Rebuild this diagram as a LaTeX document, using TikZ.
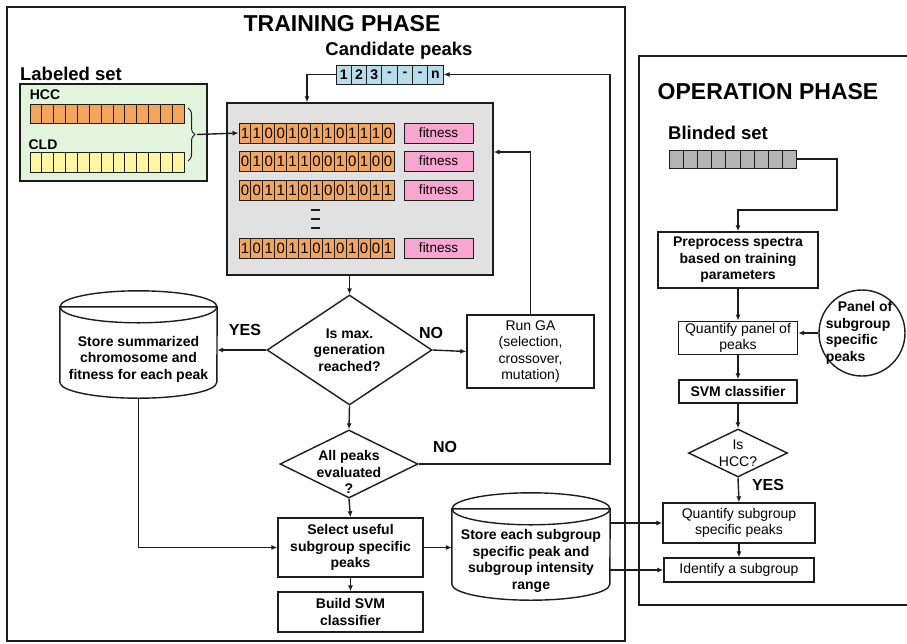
\documentclass[tikz,border=0pt]{standalone}
\usepackage{fontspec}
\setmainfont{Liberation Sans}
\usepackage{tikz}
\usetikzlibrary{positioning,arrows.meta,shapes.geometric,decorations.pathreplacing}
\definecolor{gink}{HTML}{1C1C1C}
\definecolor{gorg}{HTML}{F4A55A}
\definecolor{gpnk}{HTML}{F8A5CF}
\definecolor{gblu}{HTML}{B8DDE9}
\definecolor{ggrn}{HTML}{E3F4DC}
\definecolor{gyel}{HTML}{FFF6A2}
\definecolor{ggry}{HTML}{E1E1E1}
\definecolor{gdrk}{HTML}{B4B4B4}
\newcommand{\bodyfont}{\fontsize{14}{16.5}\selectfont}
\newcommand{\titlefont}{\fontsize{23}{26}\selectfont\bfseries}
\newcommand{\headfont}{\fontsize{18.5}{21}\selectfont\bfseries}
\newcommand{\bitrow}[3]{% name, y, bits
  \foreach \b [count=\i] in {#3}
    \node[bit] (#1\i) at ({239+(\i-0.5)*11.92},#2) {\b};
}
\newcommand{\drum}[3]{% node, x radius, y radius
  \draw[link, fill=white] ([yshift=-#3pt]#1.north west) -- ([yshift=#3pt]#1.south west)
    arc[start angle=180, end angle=0, x radius=#2, y radius=#3]
    -- ([yshift=-#3pt]#1.north east) -- cycle;
  \draw[link] ([yshift=-#3pt]#1.north) ellipse [x radius=#2, y radius=#3];
}
\tikzset{
  phase/.style ={draw=gink, line width=1.8pt},
  title/.style ={font=\titlefont, inner sep=0pt},
  head/.style  ={font=\headfont, inner sep=0pt},
  tag/.style   ={font=\bodyfont\bfseries, inner sep=0pt},
  lbl/.style   ={font=\fontsize{16}{16}\selectfont\bfseries, inner sep=0pt},
  box/.style   ={draw=gink, line width=1.4pt, fill=white, align=center,
                 inner sep=2pt, font=\bodyfont\bfseries},
  rbox/.style  ={box, font=\bodyfont},
  decn/.style  ={diamond, draw=gink, line width=1.4pt, fill=white, inner sep=0pt},
  store/.style ={rectangle, inner sep=0pt},
  dtext/.style ={align=center, inner sep=0pt, font=\bodyfont\bfseries},
  cell/.style  ={draw=gink, line width=0.9pt, inner sep=0pt},
  bit/.style   ={cell, fill=gorg, minimum width=11.92pt, minimum height=20pt,
                 font=\fontsize{15}{15}\selectfont},
  ccell/.style ={cell, fill=gblu, minimum width=15.3pt, minimum height=19pt,
                 font=\fontsize{14}{14}\selectfont\bfseries},
  fitbox/.style={cell, fill=gpnk, minimum width=69pt, minimum height=20pt,
                 font=\fontsize{13.5}{13.5}\selectfont},
  flow/.style  ={-{Latex[length=6pt,width=5pt]}, line width=1.4pt, draw=gink},
  link/.style  ={line width=1.4pt, draw=gink},
}
\begin{document}
\begin{tikzpicture}[x=1pt, y=-1pt]
  \useasboundingbox (0,0) rectangle (907,643);
  % phase frames
  \draw[phase] (7,7) rectangle (625,641);
  \draw[phase] (639,56) rectangle (915,605);
  \node[title] (trainlbl) at (342,24) {TRAINING PHASE};
  \node[title] (operlbl) at (768,92) {OPERATION PHASE};

  % labeled set
  \node[head] (labset) at (71,74) {Labeled set};
  \node[cell, line width=1.4pt, fill=ggrn, minimum width=187pt, minimum height=97pt] (lset) at (113.5,132.5) {};
  \node[tag] (hcclbl) at (45,95) {HCC};
  \node[tag] (cldlbl) at (43,145) {CLD};
  \foreach \i in {1,...,13} {
    \node[cell, fill=gorg, minimum width=11.85pt, minimum height=19pt] (hcc\i) at ({30+(\i-0.5)*11.85},113.5) {};
    \node[cell, fill=gyel, minimum width=11.85pt, minimum height=20pt] (cld\i) at ({30+(\i-0.5)*11.85},162) {};
  }
  \draw[link, line width=1pt, decorate, decoration={brace, amplitude=7pt}] (188,108) -- (188,161);
  \coordinate (brtip) at (197,134.5);

  % candidate peaks
  \node[head] (candlbl) at (399,51) {Candidate peaks};
  \foreach \c [count=\i] in {1,2,3,-,-,-,n}
    \node[ccell] (cand\i) at ({336+(\i-0.5)*15.3},74.5) {\c};

  % population
  \node[cell, line width=1.4pt, fill=ggry, minimum width=266pt, minimum height=172pt] (pop) at (360,189) {};
  \bitrow{ra}{133}{1,1,0,0,1,0,1,1,0,1,1,1,0}
  \bitrow{rb}{161}{0,1,0,1,1,1,0,0,1,0,1,0,0}
  \bitrow{rc}{190}{0,0,1,1,1,0,1,0,0,1,0,1,1}
  \bitrow{rd}{248}{1,0,1,0,1,1,0,1,0,1,0,0,1}
  \foreach \r/\y in {a/133,b/161,c/190,d/248}
    \node[fitbox] (fit\r) at (438.5,\y) {fitness};
  \foreach \y in {210,219,228}
    \draw[link, line width=2.2pt] (311,\y) -- (320,\y);

  % training flow
  \node[decn, minimum width=165pt, minimum height=110pt] (maxgen) at (349.5,350) {};
  \node[dtext] at (maxgen) {Is max.\\generation\\reached?};
  \node[store, minimum width=157pt, minimum height=107pt] (store1) at (138.5,344.5) {};
  \drum{store1}{78.5}{16}
  \node[dtext] at (138.5,359) {Store summarized\\chromosome and\\fitness for each peak};
  \node[rbox, minimum width=127pt, minimum height=73pt] (runga) at (530.5,351.5) {Run GA\\(selection,\\crossover,\\mutation)};
  \node[decn, minimum width=138pt, minimum height=68pt] (allpk) at (349,464) {};
  \node[dtext] at (349,472) {All peaks\\evaluated\\?};
  \node[box, minimum width=145pt, minimum height=59pt] (select) at (350.5,547.5) {Select useful\\subgroup specific\\peaks};
  \node[box, minimum width=145pt, minimum height=40pt] (build) at (350.5,612) {Build SVM\\classifier};
  \node[store, minimum width=158pt, minimum height=107pt] (store2) at (531,546.5) {};
  \drum{store2}{79}{16}
  \node[dtext] at (531,561) {Store each subgroup\\specific peak and\\subgroup intensity\\range};
  \coordinate (back) at (610,464);

  % operation flow
  \node[head] (blindlbl) at (718,133) {Blinded set};
  \foreach \i in {1,...,9}
    \node[cell, fill=gdrk, minimum width=14.2pt, minimum height=18pt] (bl\i) at ({669+(\i-0.5)*14.2},159) {};
  \coordinate (bturn) at (837,210);
  \node[box, minimum width=160pt, minimum height=56pt] (prep) at (738,260) {Preprocess spectra\\based on training\\parameters};
  \node[rbox, minimum width=119pt, minimum height=30pt] (quant) at (738,338) {Quantify panel of\\peaks};
  \node[circle, draw=gink, line width=1.4pt, fill=white, minimum size=86pt, inner sep=0pt] (panel) at (862,333) {};
  \node[dtext, align=left] at (859,333) {\hspace*{12pt}Panel of\\subgroup\\specific\\peaks};
  \node[box, minimum width=118pt, minimum height=23pt] (svm) at (738,391.5) {SVM classifier};
  \node[decn, minimum width=99pt, minimum height=48pt] (hcc) at (738,453) {};
  \node[dtext, font=\bodyfont] at (hcc) {Is\\HCC?};
  \node[rbox, minimum width=152pt, minimum height=40pt] (quantsub) at (739,523) {Quantify subgroup\\specific peaks};
  \node[rbox, minimum width=150pt, minimum height=24pt] (ident) at (739,570) {Identify a subgroup};

  % connectors
  \draw[flow] (brtip) -- (ra1.west);
  \draw[flow] (cand1.west) -| ([xshift=-53pt]pop.north);
  \draw[flow] (pop.south -| maxgen.north) -- (maxgen.north);
  \draw[flow] (maxgen.west) -- (store1.east |- maxgen.west);
  \draw[flow] (maxgen.east) -- (runga.west);
  \draw[flow] (runga.north) |- ([yshift=37pt]pop.east);
  \draw[flow] (maxgen.south) -- (allpk.north);
  \draw[flow] (allpk.east) -- (back) |- (cand7.east);
  \draw[flow] (allpk.south) -- (select.north);
  \draw[flow] (store1.south) |- (select.west);
  \draw[flow] (select.south) -- (build.north);
  \draw[flow] (select.east) -- (store2.west |- select.east);
  \draw[flow] (store2.east |- quantsub.west) -- (quantsub.west);
  \draw[flow] (store2.east |- ident.west) -- (ident.west);
  \draw[flow] (bl9.east) -| (bturn) -| (prep.north);
  \draw[flow] (prep.south) -- (quant.north);
  \draw[flow] (panel.west) -- (quant.east |- panel.west);
  \draw[flow] (quant.south) -- (svm.north);
  \draw[flow] (svm.south) -- (hcc.north);
  \draw[flow] (hcc.south) -- (quantsub.north);
  \draw[flow] (quantsub.south) -- (ident.north);
  \node[lbl] at (245,330) {YES};
  \node[lbl] at (431,333) {NO};
  \node[lbl] at (445,447) {NO};
  \node[lbl] at (768,485) {YES};
\end{tikzpicture}
\end{document}
